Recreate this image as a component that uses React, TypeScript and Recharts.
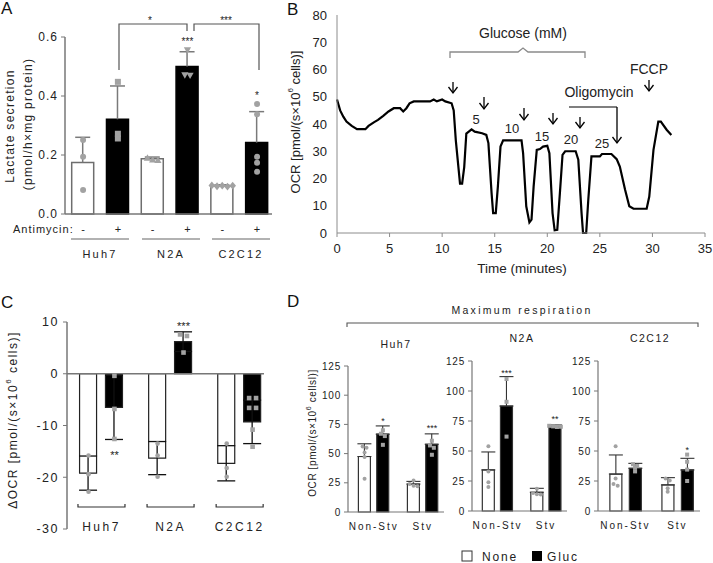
import React from "react";
import {
  ComposedChart,
  LineChart,
  Line,
  Bar,
  Cell,
  Scatter,
  ErrorBar,
  XAxis,
  YAxis,
  ReferenceLine,
} from "recharts";

// ---------- A: lactate secretion ----------
const lactateX = [1, 2, 3, 4, 5, 6];
const antimycin = ["-", "+", "-", "+", "-", "+"];
const lactateMean = [0.175, 0.321, 0.187, 0.5, 0.095, 0.242];
const lactateErr = [0.085, 0.113, 0.006, 0.05, 0.004, 0.105];
const lactateDots = [
  [0.251, 0.194, 0.081],
  [0.448, 0.272, 0.256],
  [0.19, 0.184, 0.182],
  [0.556, 0.471, 0.47],
  [0.097, 0.094, 0.096, 0.093, 0.096],
  [0.373, 0.338, 0.194, 0.174, 0.143],
];
const lactateStars = [
  { x: 4, y: 0.59, t: "***" },
  { x: 6, y: 0.41, t: "*" },
];
const lactateTicks = [0, 0.2, 0.4, 0.6];
const cellLines = ["Huh7", "N2A", "C2C12"];

// ---------- B: OCR trace ----------
const timeMin = [
  0, 0.3, 0.6, 0.9, 1.4, 1.9, 2.7, 3.0, 3.5, 3.9, 4.4, 4.9, 5.4, 6.0, 6.3, 6.6, 6.9, 7.3, 8.85, 9.2,
  9.5, 10.0, 10.3, 10.9, 11.1, 11.3, 11.7, 11.9, 12.1, 12.3, 12.8, 13.1, 13.8, 14.2, 14.4, 14.7,
  14.85, 15.1, 15.3, 15.55, 15.8, 17.55, 17.7, 18.0, 18.3, 18.5, 18.7, 19.0, 19.3, 19.6, 20.0, 20.2,
  20.5, 20.7, 20.95, 21.2, 21.45, 21.7, 22.7, 22.95, 23.26, 23.4, 23.7, 23.9, 24.2, 25.0, 25.2, 26.1,
  26.6, 26.9, 27.4, 27.8, 28.2, 29.45, 29.7, 30.1, 30.56, 30.8, 31.35, 31.8,
];
const ocrTrace = [
  49, 45, 42.7, 40.9, 39.3, 38.1, 38.1, 39.3, 40.6, 41.5, 43, 44.6, 45.8, 45.8, 44.6, 45.8, 47.6, 48.3,
  48.3, 49, 48.3, 49, 48.3, 47.6, 45, 34, 18.1, 18.1, 24.2, 36.5, 38, 37.2, 36.6, 36, 33, 14.7, 7.3,
  7.3, 17, 31.7, 34, 34, 29.3, 9.8, 3.9, 4.9, 17, 30.5, 30.8, 31.7, 32, 29.3, 7.3, 1, 1.2, 14.7, 28.7,
  30, 30, 26.9, 7.3, 0, 0, 12.2, 28.1, 28.1, 29, 29, 27.1, 24.4, 15.9, 9.8, 8.9, 8.9, 13.4, 30.5, 40.9,
  40.9, 37.9, 36,
];
const timeTicks = [0, 5, 10, 15, 20, 25, 30, 35];
const ocrTicks = [0, 10, 20, 30, 40, 50, 60, 70, 80];
const glucoseSteps = ["5", "10", "15", "20", "25"];

// ---------- C: delta OCR ----------
const dOcrX = [1, 1.75, 3, 3.75, 5, 5.75];
const dOcrMean = [-19.2, -6.5, -16.3, 6.2, -17.3, -9.3];
const dOcrErr = [3.3, 6.2, 3.2, 1.9, 3.4, 4.2];
const dOcrDots = [
  [-15.8, -19.4, -22.8],
  [-0.4, -6.8, -12.6],
  [-13.5, -15.8, -19.9],
  [7.6, 7.3, 4.1],
  [-13.5, -18.2, -19.9],
  [-4.7, -4.7, -6.6, -6.6, -10.8, -14.1],
];
const dOcrStars = [
  { x: 1.75, y: -15.3, t: "**" },
  { x: 3.75, y: 9.6, t: "***" },
];
const dOcrTicks = [-30, -20, -10, 0, 10];
const dOcrGroupX = [1.375, 3.375, 5.375];

// ---------- D: maximum respiration ----------
const respCats = ["Non-Stv", "Stv"];
const respCatX = [1, 2];
const respX = [0.813, 1.187, 1.813, 2.187]; // None, Gluc per category
const respTicks = [0, 25, 50, 75, 100, 125];
const legendNames = ["None", "Gluc"];

const huh7Mean = [47.5, 66.6, 23.9, 58.0];
const huh7Err = [10.9, 7.1, 2.3, 8.9];
const huh7Dots = [
  [56, 55, 51, 47, 28.5],
  [70, 67, 65, 57.5],
  [27, 24, 22.5, 22],
  [61, 57, 55, 49],
];
const huh7Stars = [
  { x: 1.187, y: 79.4, t: "*" },
  { x: 2.187, y: 73.6, t: "***" },
];

const n2aMean = [34.2, 87.5, 15.6, 70.3];
const n2aErr = [15.0, 24.5, 3.3, 1.4];
const n2aDots = [
  [54, 33, 24, 20],
  [110, 91, 62],
  [18.5, 15, 14, 13.8],
  [71, 70.5, 70, 70.2],
];
const n2aStars = [
  { x: 1.187, y: 116.7, t: "***" },
  { x: 2.187, y: 78.6, t: "**" },
];

const c2c12Mean = [30.8, 35.6, 21.7, 34.2];
const c2c12Err = [15.9, 4.1, 6.1, 9.7];
const c2c12Dots = [
  [54, 27, 22.5, 21],
  [39, 37.5, 36, 33],
  [27, 25.5, 19, 16],
  [47, 41, 34.5, 25],
];
const c2c12Stars = [{ x: 2.187, y: 52.2, t: "*" }];

// ---------- styling ----------
const FONT = "Arial, 'Liberation Sans', Helvetica, sans-serif";
const AXIS = "#777";
const INK = "#222";
const DOT = "#a2a2a2";

type Kind = "circle" | "square" | "triangle" | "tridown" | "diamond";

// Prism-style scatter: near-equal values sit side by side
function clusterOffsets(values: number[], tol: number, step: number) {
  const offs = values.map(() => 0);
  const used = values.map(() => false);
  for (let i = 0; i < values.length; i++) {
    if (used[i]) continue;
    const grp = [i];
    used[i] = true;
    for (let j = i + 1; j < values.length; j++) {
      if (!used[j] && Math.abs(values[j] - values[i]) < tol) {
        grp.push(j);
        used[j] = true;
      }
    }
    grp.forEach((k, n) => {
      offs[k] = (n - (grp.length - 1) / 2) * step;
    });
  }
  return offs;
}

function dotRows(xs: number[], groups: number[][], kinds: Kind[], tol: number, step: number) {
  const out: { x: number; y: number; kind: Kind }[] = [];
  groups.forEach((vals, i) => {
    const offs = clusterOffsets(vals, tol, step);
    vals.forEach((v, j) => out.push({ x: xs[i] + offs[j], y: v, kind: kinds[i] }));
  });
  return out;
}

const marker = (s: number, color: string) => (p: any) => {
  const { cx, cy } = p;
  if (cx == null || cy == null) return <g />;
  const kind: Kind = p.payload?.kind ?? p.kind;
  switch (kind) {
    case "square":
      return <rect x={cx - s} y={cy - s} width={2 * s} height={2 * s} fill={color} />;
    case "triangle":
      return (
        <polygon
          points={`${cx},${cy - s * 1.25} ${cx - s * 1.2},${cy + s * 0.9} ${cx + s * 1.2},${cy + s * 0.9}`}
          fill={color}
        />
      );
    case "tridown":
      return (
        <polygon
          points={`${cx},${cy + s * 1.25} ${cx - s * 1.2},${cy - s * 0.9} ${cx + s * 1.2},${cy - s * 0.9}`}
          fill={color}
        />
      );
    case "diamond":
      return (
        <polygon
          points={`${cx},${cy - s * 1.3} ${cx + s * 1.1},${cy} ${cx},${cy + s * 1.3} ${cx - s * 1.1},${cy}`}
          fill={color}
        />
      );
    default:
      return <circle cx={cx} cy={cy} r={s} fill={color} />;
  }
};

const starShape = (fs: number) => (p: any) =>
  p.cx == null ? (
    <g />
  ) : (
    <text x={p.cx} y={p.cy + fs * 0.55} textAnchor="middle" fontSize={fs} fill={INK}>
      {p.payload?.t}
    </text>
  );

// upward-only error whisker, drawn as a stacked segment on top of the mean bar
const upWhisker = (cap: number, color: string) => (p: any) => {
  if (p.x == null || !p.height) return <g />;
  const cx = p.x + p.width / 2;
  return (
    <g stroke={color} strokeWidth={1.5}>
      <line x1={cx} x2={cx} y1={p.y} y2={p.y + p.height} />
      <line x1={cx - cap / 2} x2={cx + cap / 2} y1={p.y} y2={p.y} />
    </g>
  );
};

// hidden twin x axis for the dots, so their x values don't shrink the bar band
const DotAxis = ({ domain }: { domain: [number, number] }) => (
  <XAxis xAxisId="dots" type="number" dataKey="x" domain={domain} allowDataOverflow hide height={0} />
);

// ---------- panels ----------
function LactatePanel() {
  const rows = lactateX.map((x, i) => ({ x, mean: lactateMean[i], err: lactateErr[i] }));
  const dots = dotRows(
    lactateX,
    lactateDots,
    ["circle", "square", "triangle", "tridown", "diamond", "circle"],
    0.012,
    0.15,
  );
  const dom: [number, number] = [0.48, 6.43];
  return (
    <ComposedChart width={280} height={290} data={rows} margin={{ top: 37, right: 8, bottom: 46, left: 20 }}>
      <XAxis
        type="number"
        dataKey="x"
        domain={dom}
        ticks={lactateX}
        allowDataOverflow
        height={30}
        interval={0}
        axisLine={{ stroke: AXIS, strokeWidth: 1.5 }}
        tickLine={false}
        tickSize={0}
        tickMargin={0}
        tick={(p: any) => (
          <text x={p.x} y={p.y + 19} textAnchor="middle" fontSize={11} fill={INK}>
            {antimycin[lactateX.indexOf(p.payload.value)]}
          </text>
        )}
      />
      {DotAxis({ domain: dom })}
      <YAxis
        type="number"
        domain={[0, 0.6]}
        ticks={lactateTicks}
        width={45}
        interval={0}
        axisLine={{ stroke: AXIS, strokeWidth: 1.5 }}
        tickLine={{ stroke: AXIS }}
        tickSize={4}
        tickMargin={3}
        tick={{ fontSize: 12, fill: INK, letterSpacing: 1 }}
        tickFormatter={(v: number) => v.toFixed(1)}
      />
      <Bar dataKey="mean" stackId="s" barSize={22} isAnimationActive={false}>
        {rows.map((r, i) => (
          <Cell
            key={i}
            fill={antimycin[i] === "+" ? "#000" : "#fff"}
            stroke={antimycin[i] === "+" ? "#000" : "#6e6e6e"}
            strokeWidth={1.5}
          />
        ))}
      </Bar>
      <Bar dataKey="err" stackId="s" barSize={22} isAnimationActive={false} shape={upWhisker(15, "#7a7a7a")} />
      <Scatter xAxisId="dots" data={dots} dataKey="y" shape={marker(3, DOT)} isAnimationActive={false} />
      <Scatter xAxisId="dots" data={lactateStars} dataKey="y" shape={starShape(10)} isAnimationActive={false} />
    </ComposedChart>
  );
}

function OcrTracePanel() {
  const rows = timeMin.map((t, i) => ({ t, ocr: ocrTrace[i] }));
  return (
    <LineChart width={473} height={290} data={rows} margin={{ top: 15, right: 8, bottom: 17, left: 0 }}>
      <XAxis
        type="number"
        dataKey="t"
        domain={[0, 35]}
        ticks={timeTicks}
        height={40}
        interval={0}
        axisLine={{ stroke: "#8c8c8c" }}
        tickLine={{ stroke: "#8c8c8c" }}
        tickSize={4}
        tickMargin={7}
        tick={{ fontSize: 13, fill: INK }}
      />
      <YAxis
        type="number"
        domain={[0, 80]}
        ticks={ocrTicks}
        width={97}
        interval={0}
        axisLine={{ stroke: "#8c8c8c" }}
        tickLine={false}
        tickSize={0}
        tickMargin={10}
        tick={{ fontSize: 13, fill: INK }}
      />
      <Line type="linear" dataKey="ocr" stroke="#000" strokeWidth={2.2} dot={false} isAnimationActive={false} />
    </LineChart>
  );
}

function DeltaOcrPanel() {
  const rows = dOcrX.map((x, i) => ({ x, mean: dOcrMean[i], err: dOcrErr[i] }));
  const dots = dotRows(dOcrX, dOcrDots, ["circle", "square", "circle", "square", "circle", "square"], 0.5, 0.2);
  const dom: [number, number] = [0.377, 6.08];
  return (
    <ComposedChart width={280} height={273} data={rows} margin={{ top: 32, right: 16, bottom: 4, left: 22 }}>
      <XAxis
        type="number"
        dataKey="x"
        domain={dom}
        ticks={dOcrGroupX}
        allowDataOverflow
        height={30}
        interval={0}
        axisLine={false}
        tickLine={false}
        tickSize={0}
        tickMargin={0}
        tick={(p: any) => (
          <g>
            <polyline
              points={`${p.x - 23.5},${p.y - 25} ${p.x - 23.5},${p.y - 22} ${p.x + 23.5},${p.y - 22} ${p.x + 23.5},${p.y - 25}`}
              fill="none"
              stroke="#333"
              strokeWidth={1.2}
            />
            <text x={p.x} y={p.y + 2} textAnchor="middle" fontSize={12} letterSpacing={2.5} fill={INK}>
              {cellLines[dOcrGroupX.indexOf(p.payload.value)]}
            </text>
          </g>
        )}
      />
      {DotAxis({ domain: dom })}
      <YAxis
        type="number"
        domain={[-30, 10]}
        ticks={dOcrTicks}
        width={45}
        interval={0}
        axisLine={{ stroke: AXIS, strokeWidth: 1.5 }}
        tickLine={{ stroke: AXIS }}
        tickSize={4}
        tickMargin={4}
        tick={{ fontSize: 12.5, fill: INK, letterSpacing: 1.5 }}
      />
      <ReferenceLine y={0} stroke={AXIS} strokeWidth={1.5} />
      <Bar dataKey="mean" barSize={17} isAnimationActive={false}>
        {rows.map((r, i) => (
          <Cell key={i} fill={i % 2 ? "#000" : "#fff"} stroke="#222" strokeWidth={1.2} />
        ))}
        <ErrorBar dataKey="err" direction="y" width={9} stroke="#111" strokeWidth={1.3} />
      </Bar>
      <Scatter xAxisId="dots" data={dots} dataKey="y" shape={marker(2.3, DOT)} isAnimationActive={false} />
      <Scatter xAxisId="dots" data={dOcrStars} dataKey="y" shape={starShape(11)} isAnimationActive={false} />
    </ComposedChart>
  );
}

type RespProps = {
  means: number[];
  errs: number[];
  dotsIn: number[][];
  stars: { x: number; y: number; t: string }[];
  width: number;
  height: number;
  margin: { top: number; right: number; bottom: number; left: number };
};

function RespPanel({ means, errs, dotsIn, stars, width, height, margin }: RespProps) {
  const rows = respX.map((x, i) => ({ x, mean: means[i], err: [0, errs[i]] }));
  const dots = dotRows(respX, dotsIn, ["circle", "square", "circle", "square"], 2.5, 0.08);
  const dom: [number, number] = [0.475, 2.434];
  return (
    <ComposedChart width={width} height={height} data={rows} margin={margin}>
      <XAxis
        type="number"
        dataKey="x"
        domain={dom}
        ticks={respCatX}
        allowDataOverflow
        height={25}
        interval={0}
        axisLine={{ stroke: AXIS, strokeWidth: 1.2 }}
        tickLine={false}
        tickSize={0}
        tickMargin={0}
        tick={(p: any) => (
          <text x={p.x} y={p.y + 18} textAnchor="middle" fontSize={10} letterSpacing={2} fill={INK}>
            {respCats[respCatX.indexOf(p.payload.value)]}
          </text>
        )}
      />
      {DotAxis({ domain: dom })}
      <YAxis
        type="number"
        domain={[0, 125]}
        ticks={respTicks}
        width={40}
        interval={0}
        axisLine={{ stroke: AXIS, strokeWidth: 1.2 }}
        tickLine={{ stroke: AXIS }}
        tickSize={4}
        tickMargin={3}
        tick={{ fontSize: 10, fill: INK, letterSpacing: 0.8 }}
      />
      <Bar dataKey="mean" barSize={12} isAnimationActive={false}>
        {rows.map((r, i) => (
          <Cell key={i} fill={i % 2 ? "#000" : "#fff"} stroke="#333" strokeWidth={1.2} />
        ))}
        <ErrorBar dataKey="err" direction="y" width={7} stroke="#333" strokeWidth={1.1} />
      </Bar>
      <Scatter xAxisId="dots" data={dots} dataKey="y" shape={marker(2, DOT)} isAnimationActive={false} />
      <Scatter xAxisId="dots" data={stars} dataKey="y" shape={starShape(9)} isAnimationActive={false} />
    </ComposedChart>
  );
}

const Arrow = ({ x, y1, y2 }: { x: number; y1: number; y2: number }) => (
  <g stroke="#000" strokeWidth={1.3} fill="none">
    <line x1={x} y1={y1} x2={x} y2={y2} />
    <polyline points={`${x - 4.5},${y2 - 6} ${x},${y2} ${x + 4.5},${y2 - 6}`} />
  </g>
);

function Overlay() {
  const stepArrows = [
    { x: 453, y1: 82, y2: 93 },
    { x: 484, y1: 97, y2: 109 },
    { x: 524, y1: 108, y2: 120 },
    { x: 553, y1: 113, y2: 124 },
    { x: 580, y1: 117, y2: 128 },
  ];
  const stepLabels = [
    { x: 476, y: 124 },
    { x: 512, y: 133 },
    { x: 542, y: 141 },
    { x: 571, y: 144 },
    { x: 602, y: 148 },
  ];
  const aGroupCenters = [100, 171, 241];
  return (
    <svg
      width={713}
      height={563}
      style={{ position: "absolute", left: 0, top: 0, pointerEvents: "none" }}
      fontFamily={FONT}
    >
      {/* panel letters */}
      <g fontSize={17} fill="#111">
        <text x={1} y={14}>A</text>
        <text x={287} y={15}>B</text>
        <text x={1} y={308}>C</text>
        <text x={287} y={307}>D</text>
      </g>

      {/* A */}
      <g fill={INK} fontSize={12} letterSpacing={1.3} textAnchor="middle" dominantBaseline="central">
        <text transform="rotate(-90 10 126)" x={10} y={126}>Lactate secretion</text>
        <text transform="rotate(-90 28 124)" x={28} y={124}>(pmol/h×mg protein)</text>
      </g>
      <text x={13} y={233} fontSize={11} letterSpacing={1} fill={INK}>Antimycin:</text>
      {aGroupCenters.map((cx, i) => (
        <g key={i}>
          <line x1={cx - 29} x2={cx + 29} y1={239} y2={239} stroke="#666" strokeWidth={1.2} />
          <text x={cx} y={258} textAnchor="middle" fontSize={11} letterSpacing={2.2} fill={INK}>
            {cellLines[i]}
          </text>
        </g>
      ))}
      <g fill="none" stroke="#555" strokeWidth={1.2}>
        <polyline points="119,70 119,24 187,24 187,31" />
        <polyline points="194,31 194,24 259,24 259,70" />
      </g>
      <g fontSize={10} fill={INK} textAnchor="middle">
        <text x={150} y={24}>*</text>
        <text x={226} y={24}>***</text>
      </g>

      {/* B */}
      <text
        transform="rotate(-90 295 122)"
        x={295}
        y={122}
        fontSize={13}
        fill={INK}
        textAnchor="middle"
        dominantBaseline="central"
      >
        <tspan>OCR [pmol/(s×10</tspan>
        <tspan dy={-5} fontSize={8}>6</tspan>
        <tspan dy={5}> cells)]</tspan>
      </text>
      <text x={522} y={273} fontSize={13.5} fill={INK} textAnchor="middle">Time (minutes)</text>
      <text x={523} y={38} fontSize={14} fill={INK} textAnchor="middle">Glucose (mM)</text>
      <path d="M450,58 V52 H518 L523,48 L528,52 H585 V58" fill="none" stroke="#8a8a8a" strokeWidth={1.3} />
      {stepArrows.map((a, i) => (
        <Arrow key={i} {...a} />
      ))}
      {stepLabels.map((l, i) => (
        <text key={i} x={l.x} y={l.y} fontSize={13} fill={INK} textAnchor="middle">
          {glucoseSteps[i]}
        </text>
      ))}
      <text x={599} y={97} fontSize={14} fill={INK} textAnchor="middle">Oligomycin</text>
      <path d="M569,107 H617" stroke="#000" strokeWidth={1.2} fill="none" />
      <Arrow x={617} y1={107} y2={143} />
      <text x={649} y={74} fontSize={14} fill={INK} textAnchor="middle">FCCP</text>
      <Arrow x={649} y1={80} y2={91} />

      {/* C */}
      <text
        transform="rotate(-90 12.5 420)"
        x={12.5}
        y={420}
        fontSize={12}
        letterSpacing={1.5}
        fill={INK}
        textAnchor="middle"
        dominantBaseline="central"
      >
        <tspan>ΔOCR [pmol/(s×10</tspan>
        <tspan dy={-5} fontSize={8}>6</tspan>
        <tspan dy={5}> cells)]</tspan>
      </text>

      {/* D */}
      <text x={522} y={314} fontSize={10.5} letterSpacing={2.3} fill={INK} textAnchor="middle">
        Maximum respiration
      </text>
      <path d="M347,327 V323 H698 V327" fill="none" stroke="#555" strokeWidth={1.1} />
      <g fontSize={10.5} letterSpacing={1.5} fill={INK} textAnchor="middle">
        <text x={396} y={348}>{cellLines[0]}</text>
        <text x={522} y={342}>{cellLines[1]}</text>
        <text x={650} y={342}>{cellLines[2]}</text>
      </g>
      <text
        transform="rotate(-90 312 433)"
        x={312}
        y={433}
        fontSize={10}
        letterSpacing={0.6}
        fill={INK}
        textAnchor="middle"
        dominantBaseline="central"
      >
        <tspan>OCR [pmol/(s×10</tspan>
        <tspan dy={-4} fontSize={7}>6</tspan>
        <tspan dy={4}> cellsl)]</tspan>
      </text>

      {/* legend */}
      <rect x={462} y={551} width={10} height={10} fill="#fff" stroke="#333" strokeWidth={1} />
      <text x={482} y={561} fontSize={12} letterSpacing={1.8} fill={INK}>{legendNames[0]}</text>
      <rect x={532} y={551} width={10} height={10} fill="#000" />
      <text x={547} y={561} fontSize={12} letterSpacing={1.8} fill={INK}>{legendNames[1]}</text>
    </svg>
  );
}

const place = (left: number, top: number): React.CSSProperties => ({ position: "absolute", left, top });

export default function App() {
  return (
    <div
      style={{
        position: "fixed",
        left: 0,
        top: 0,
        width: 713,
        height: 563,
        background: "#fff",
        fontFamily: FONT,
        overflow: "hidden",
      }}
    >
      <div style={place(0, 0)}>
        <LactatePanel />
      </div>
      <div style={place(240, 0)}>
        <OcrTracePanel />
      </div>
      <div style={place(0, 290)}>
        <DeltaOcrPanel />
      </div>
      <div style={place(290, 355)}>
        <RespPanel
          means={huh7Mean}
          errs={huh7Err}
          dotsIn={huh7Dots}
          stars={huh7Stars}
          width={160}
          height={185}
          margin={{ top: 11, right: 6, bottom: 3, left: 18 }}
        />
      </div>
      <div style={place(414, 350)}>
        <RespPanel
          means={n2aMean}
          errs={n2aErr}
          dotsIn={n2aDots}
          stars={n2aStars}
          width={160}
          height={190}
          margin={{ top: 11, right: 7, bottom: 4, left: 18 }}
        />
      </div>
      <div style={place(540, 350)}>
        <RespPanel
          means={c2c12Mean}
          errs={c2c12Err}
          dotsIn={c2c12Dots}
          stars={c2c12Stars}
          width={165}
          height={190}
          margin={{ top: 11, right: 5, bottom: 4, left: 18 }}
        />
      </div>
      <Overlay />
    </div>
  );
}
